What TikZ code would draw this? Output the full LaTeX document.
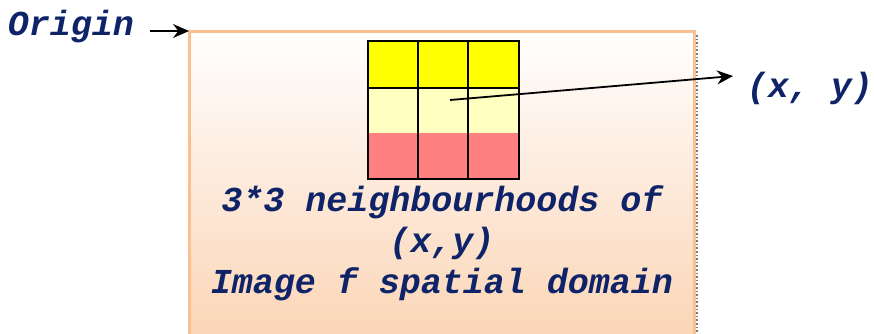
\documentclass[tikz,border=0pt]{standalone}
\usepackage{fontspec}
\setmonofont{Liberation Mono}
\usetikzlibrary{arrows.meta,calc}
\definecolor{textBlue}{HTML}{0F2468}
\definecolor{boxDraw}{HTML}{FAC08F}
\definecolor{boxFill}{HTML}{FBD4B4}
\definecolor{cellTop}{HTML}{FFFF00}
\definecolor{cellMid}{HTML}{FFFFC0}
\definecolor{cellLow}{HTML}{FF8080}
\definecolor{shadowCol}{HTML}{7A7A7A}

\begin{document}
\begin{tikzpicture}[
  x=0.5pt, y=-0.5pt,
  lbl/.style={text=textBlue, inner sep=2pt,
              font=\ttfamily\bfseries\itshape\fontsize{17.5}{20.5}\selectfont},
  flow/.style={-{Stealth[length=8pt,width=7pt]}, line width=0.9pt, draw=black},
  gridline/.style={draw=black, line width=1.2pt},
]
\useasboundingbox (0,0) rectangle (874,333);

% ---- Imagen (dominio espacial) ----
\draw[shadowCol, densely dotted, line width=0.8pt] (697,35) -- (697,340);
\shade[top color=white, bottom color=boxFill] (189,31) rectangle (694,345);
\draw[boxDraw, line width=1.5pt] (189,345) -- (189,31) -- (694,31) -- (694,345);
\coordinate (imgNW) at (189,31);

% ---- Vecindad 3x3 ----
\fill[cellTop] (368,41) rectangle (519,88);
\fill[cellMid] (368,88) rectangle (519,133);
\fill[cellLow] (368,133) rectangle (519,179);
\draw[gridline] (368,41) rectangle (519,179);
\draw[gridline] (368,88) -- (519,88);
\foreach \gx in {418,468}
  \draw[gridline] (\gx,41) -- (\gx,179);
\coordinate (mid) at (450,100);

% ---- Etiquetas ----
\node[lbl] (origin) at (71,27) {Origin};
\node[lbl] (xy) at (810,88) {(x, y)};
\coordinate (xyTip) at (733,76);
\node[lbl, align=center] (caption) at (442,243)
  {3*3 neighbourhoods of\\(x,y)\\Image f spatial domain};

% ---- Flechas ----
\draw[flow] (origin.east |- imgNW) ++(12,0) -- (imgNW);
\draw[flow] (mid) -- (xyTip);

\end{tikzpicture}
\end{document}
